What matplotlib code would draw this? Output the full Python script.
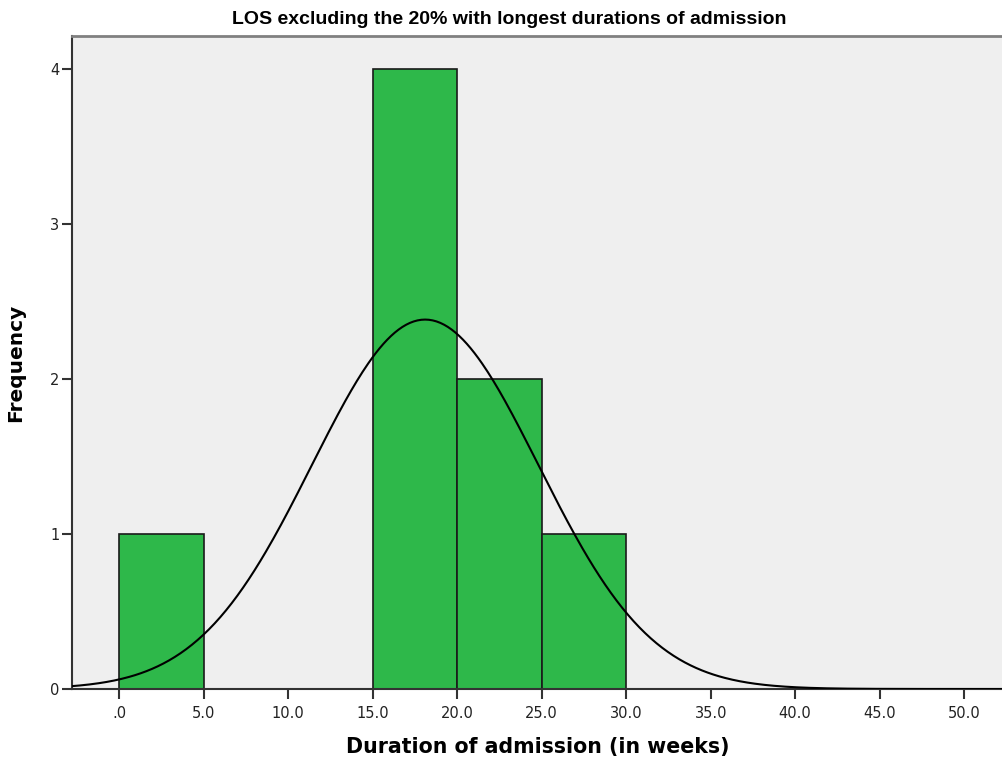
import numpy as np
import matplotlib.pyplot as plt

# histogram counts per 5-week bin
bin_edges = [0, 5, 10, 15, 20, 25, 30]
counts = [1, 0, 0, 4, 2, 1]

# fitted normal curve parameters
mean_weeks = 18.1
sd_weeks = 6.7
n_cases = sum(counts)
bin_width = 5

xticks = [0, 5, 10, 15, 20, 25, 30, 35, 40, 45, 50]
xtick_labels = [".0", "5.0", "10.0", "15.0", "20.0", "25.0", "30.0",
                "35.0", "40.0", "45.0", "50.0"]
yticks = [0, 1, 2, 3, 4]

plt.rcParams['font.family'] = ['DejaVu Sans']

fig = plt.figure(figsize=(10.03, 7.6), dpi=100)
ax = fig.add_axes([72 / 1003, 71 / 760, 931 / 1003, 653 / 760])
ax.set_facecolor("#efefef")

lefts = bin_edges[:-1]
for left, c in zip(lefts, counts):
    if c > 0:
        ax.bar(left, c, width=bin_width, align="edge", color="#2eb84a",
               edgecolor="#1a1a1a", linewidth=1.2, zorder=2)

xs = np.linspace(-3, 53, 500)
ys = n_cases * bin_width / (sd_weeks * np.sqrt(2 * np.pi)) * \
    np.exp(-(xs - mean_weeks) ** 2 / (2 * sd_weeks ** 2))
ax.plot(xs, ys, color="black", linewidth=1.5, zorder=3)

ax.set_xlim(-2.8, 52.3)
ax.set_ylim(0, 4.21)

ax.set_xticks(xticks)
ax.set_xticklabels(xtick_labels, fontsize=10.5, color="#222222")
ax.set_yticks(yticks)
ax.set_yticklabels([str(v) for v in yticks], fontsize=10.5, color="#222222")
ax.tick_params(axis="x", direction="out", length=7, width=1.5,
               color="#333333", pad=5)
ax.tick_params(axis="y", direction="out", length=7, width=1.5,
               color="#333333", pad=2)

for side in ("left", "bottom"):
    ax.spines[side].set_color("#333333")
    ax.spines[side].set_linewidth(1.5)
ax.spines["top"].set_color("#808080")
ax.spines["top"].set_linewidth(2)
ax.spines["right"].set_visible(False)

ax.set_xlabel("Duration of admission (in weeks)", fontsize=14.8,
              fontweight="bold", labelpad=12)
ax.set_ylabel("Frequency", fontsize=14.5, fontweight="bold", labelpad=18)

fig.text(0.508, 0.974, "LOS excluding the 20% with longest durations of admission",
         ha="center", va="center", fontsize=14, fontweight="bold",
         family=["Liberation Sans", "DejaVu Sans"])

fig.savefig("out.png", dpi=100)
